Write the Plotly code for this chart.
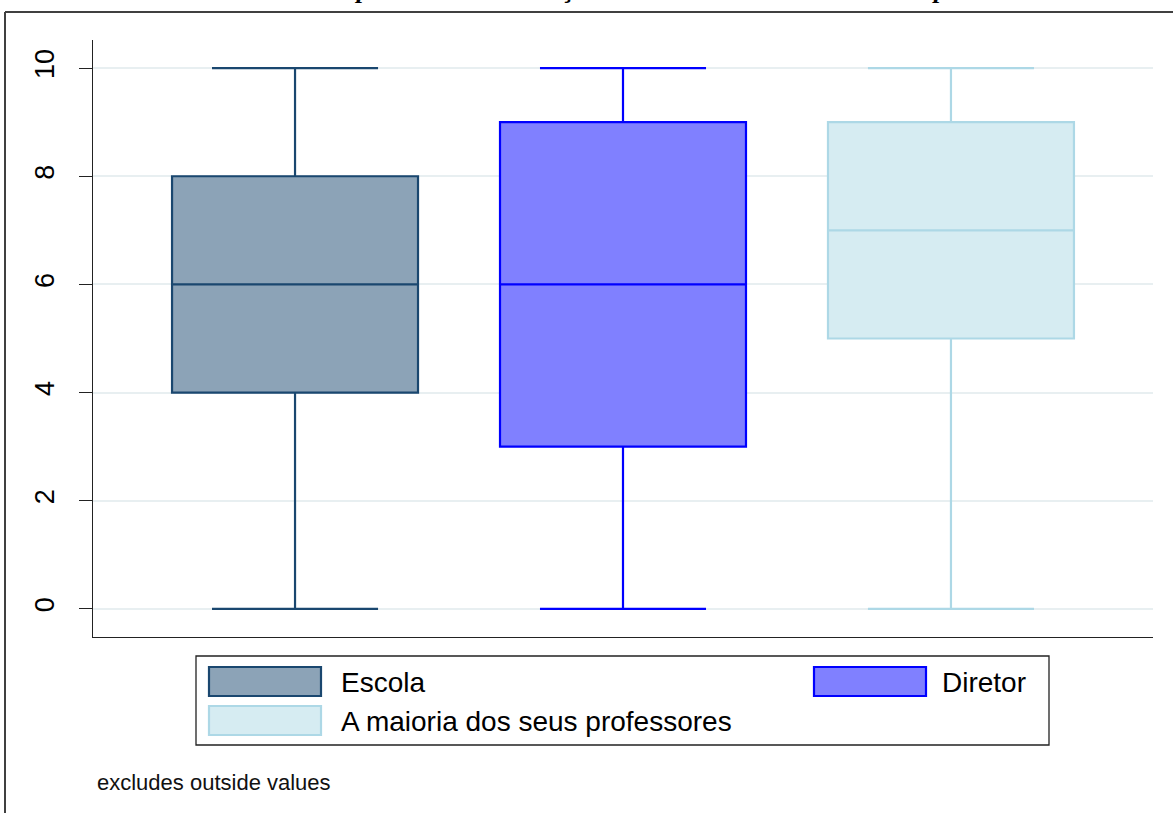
import plotly.graph_objects as go

# Box summaries (score 0-10), one box per respondent group
groups = ["Escola", "Diretor", "A maioria dos seus professores"]
positions = [1, 2, 3]
lower_whisker = [0, 0, 0]
q1_values = [4, 3, 5]
medians = [6, 6, 7]
q3_values = [8, 9, 9]
upper_whisker = [10, 10, 10]

line_colors = ["#1A476F", "#0000FF", "#ADD8E6"]
fill_colors = ["#8CA3B7", "#8080FF", "#D6ECF2"]

y_ticks = [0, 2, 4, 6, 8, 10]
title_text = "A importância da avaliação atribuída à escola e ao diretor pelos docentes"
note_text = "excludes outside values"

W, H = 1173, 813
L, R, T, B = 93, 1153, 40, 637  # plot area in pixels
SANS = "Liberation Sans, Arial"


def px(x):
    return (x - L) / (R - L)


def py(y):
    return (B - y) / (B - T)


fig = go.Figure()
for i, name in enumerate(groups):
    fig.add_trace(go.Box(
        x=[positions[i]],
        q1=[q1_values[i]], median=[medians[i]], q3=[q3_values[i]],
        lowerfence=[lower_whisker[i]], upperfence=[upper_whisker[i]],
        name=name,
        width=0.75,
        whiskerwidth=0.675,
        line=dict(color=line_colors[i], width=2.2),
        fillcolor=fill_colors[i],
        boxpoints=False,
        showlegend=False,
        hoverinfo="skip",
    ))

shapes = []
annotations = []

# outer frame (left and top edges are visible)
shapes.append(dict(type="line", xref="paper", yref="paper",
                   x0=px(5), x1=px(1190), y0=py(12), y1=py(12),
                   line=dict(color="#404040", width=2)))
shapes.append(dict(type="line", xref="paper", yref="paper",
                   x0=px(5), x1=px(5), y0=py(12), y1=py(830),
                   line=dict(color="#404040", width=2)))

# legend box
shapes.append(dict(type="rect", xref="paper", yref="paper",
                   x0=px(196), x1=px(1049), y0=py(656), y1=py(745),
                   line=dict(color="#222222", width=1.3), fillcolor="white"))

legend_slots = [(209, 667, 339), (814, 667, 940), (209, 706, 339)]
for i, name in enumerate(groups):
    sx, sy, tx = legend_slots[i]
    shapes.append(dict(type="rect", xref="paper", yref="paper",
                       x0=px(sx), x1=px(sx + 112), y0=py(sy), y1=py(sy + 29),
                       line=dict(color=line_colors[i], width=2.2),
                       fillcolor=fill_colors[i]))
    annotations.append(dict(xref="paper", yref="paper", x=px(tx), y=py(sy + 15),
                            xanchor="left", yanchor="middle", showarrow=False,
                            text=name,
                            font=dict(family=SANS, size=28, color="black")))

annotations.append(dict(xref="paper", yref="paper", x=px(95), y=py(782),
                        xanchor="left", yanchor="middle", showarrow=False,
                        text=note_text,
                        font=dict(family=SANS, size=22, color="#111111")))

annotations.append(dict(xref="paper", yref="paper", x=px(303), y=py(6),
                        xanchor="left", yanchor="bottom", showarrow=False,
                        text="<b><i>" + title_text + "</i></b>",
                        font=dict(family="Liberation Serif, Times New Roman", size=26, color="black")))

fig.update_layout(
    width=W, height=H,
    margin=dict(l=L, r=W - R, t=T, b=H - B, pad=0),
    paper_bgcolor="white", plot_bgcolor="white",
    shapes=shapes, annotations=annotations,
    showlegend=False,
)
fig.update_xaxes(range=[0.384, 3.616], showticklabels=False, ticks="",
                 showgrid=False, zeroline=False, showline=True,
                 linecolor="#222222", linewidth=1.3, mirror=False)
fig.update_yaxes(range=[-0.52, 10.52], tickvals=y_ticks,
                 ticktext=[str(v) for v in y_ticks],
                 tickangle=-90, ticks="outside", ticklen=13, tickwidth=1.3,
                 tickcolor="#222222", ticklabelstandoff=14,
                 tickfont=dict(family=SANS, size=27, color="black"),
                 showgrid=True, gridcolor="#E8EFF1", gridwidth=2,
                 zeroline=False, showline=True, linecolor="#222222", linewidth=1.3)

fig.write_html("out.html")
